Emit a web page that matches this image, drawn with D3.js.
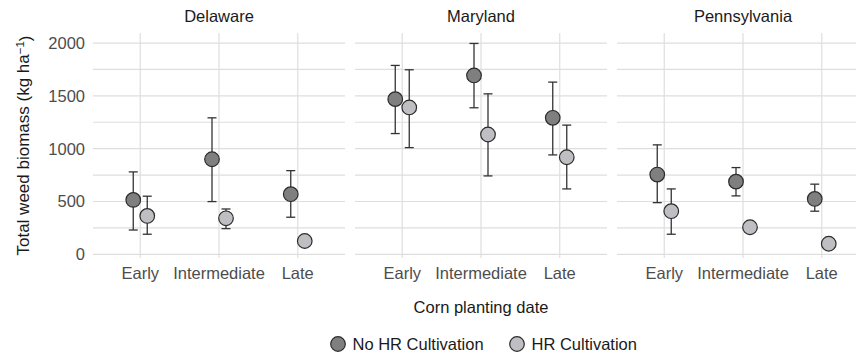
<!DOCTYPE html>
<html>
<head>
<meta charset="utf-8">
<script src="https://cdn.jsdelivr.net/npm/d3@7"></script>
<style>
  body { margin: 0; background: #fff; }
  svg { display: block; font-family: "Liberation Sans", Arial, sans-serif; }
  .grid line { stroke: #dedede; stroke-width: 1.2; }
  .tick-label { fill: #4d4d4d; font-size: 16.5px; }
  .title { fill: #1a1a1a; font-size: 16.5px; }
</style>
</head>
<body>
<script>
var WIDTH = 856;
var HEIGHT = 356;

var states = ["Delaware", "Maryland", "Pennsylvania"];
var dates = ["Early", "Intermediate", "Late"];
var treatments = ["No HR Cultivation", "HR Cultivation"];
var yTicks = [0, 500, 1000, 1500, 2000];
var yMinor = [250, 750, 1250, 1750];

// values per state, in order Early, Intermediate, Late
var noHrMean  = [[515, 900, 569], [1469, 1693, 1292], [755, 688, 524]];
var noHrLower = [[230, 499, 351], [1143, 1387, 941], [489, 553, 408]];
var noHrUpper = [[780, 1292, 792], [1788, 1996, 1630], [1036, 821, 664]];

var hrMean  = [[363, 341, 126], [1390, 1134, 919], [408, 256, 100]];
var hrLower = [[190, 243, null], [1010, 742, 619], [190, null, null]];
var hrUpper = [[550, 429, null], [1747, 1519, 1223], [619, null, null]];

var fills = ["#7f7f7f", "#bfbfc3"];

var PANEL_LEFT = 93;
var PANEL_W = 252;
var PANEL_GAP = 10;
var PANEL_TOP = 33;
var PANEL_BOTTOM = 258;

var translate = function (x, y) {
  return "translate(" + x + "," + y + ")";
};

var yScale = d3.scaleLinear()
  .domain([-35, 2095])
  .range([PANEL_BOTTOM, PANEL_TOP]);

var xScale = d3.scalePoint()
  .domain(dates)
  .range([0, PANEL_W])
  .padding(0.6);

var dodge = d3.scalePoint()
  .domain(treatments)
  .range([-7, 7]);

var rows = [];
states.forEach(function (s, si) {
  dates.forEach(function (d, di) {
    rows.push({state: s, date: d, trt: treatments[0], mean: noHrMean[si][di], lo: noHrLower[si][di], hi: noHrUpper[si][di], k: 0});
    rows.push({state: s, date: d, trt: treatments[1], mean: hrMean[si][di], lo: hrLower[si][di], hi: hrUpper[si][di], k: 1});
  });
});

var svg = d3.select("body").append("svg")
  .attr("width", WIDTH)
  .attr("height", HEIGHT);

states.forEach(function (s, si) {
  var g = svg.append("g")
    .attr("transform", translate(PANEL_LEFT + si * (PANEL_W + PANEL_GAP), 0));

  var grid = g.append("g").attr("class", "grid");
  grid.selectAll("line.h")
    .data(yTicks.concat(yMinor))
    .enter().append("line")
    .attr("x1", 0).attr("x2", PANEL_W)
    .attr("y1", function (d) { return yScale(d); })
    .attr("y2", function (d) { return yScale(d); });
  grid.selectAll("line.v")
    .data(dates)
    .enter().append("line")
    .attr("x1", function (d) { return xScale(d); })
    .attr("x2", function (d) { return xScale(d); })
    .attr("y1", PANEL_TOP).attr("y2", PANEL_BOTTOM);

  g.append("text")
    .attr("class", "title")
    .attr("x", PANEL_W / 2)
    .attr("y", 22)
    .attr("text-anchor", "middle")
    .text(s);

  g.selectAll("text.xt")
    .data(dates)
    .enter().append("text")
    .attr("class", "tick-label")
    .attr("x", function (d) { return xScale(d); })
    .attr("y", 279)
    .attr("text-anchor", "middle")
    .text(function (d) { return d; });

  var data = rows.filter(function (r) { return r.state === s; });
  var bars = data.filter(function (r) { return r.lo !== null; });
  var cx = function (r) { return xScale(r.date) + dodge(r.trt); };

  var eb = g.append("g").attr("stroke", "#333").attr("stroke-width", 1.3).attr("fill", "none");
  eb.selectAll("line.stem").data(bars).enter().append("line")
    .attr("x1", cx).attr("x2", cx)
    .attr("y1", function (r) { return yScale(r.lo); })
    .attr("y2", function (r) { return yScale(r.hi); });
  eb.selectAll("line.top").data(bars).enter().append("line")
    .attr("x1", function (r) { return cx(r) - 4.5; })
    .attr("x2", function (r) { return cx(r) + 4.5; })
    .attr("y1", function (r) { return yScale(r.hi); })
    .attr("y2", function (r) { return yScale(r.hi); });
  eb.selectAll("line.bot").data(bars).enter().append("line")
    .attr("x1", function (r) { return cx(r) - 4.5; })
    .attr("x2", function (r) { return cx(r) + 4.5; })
    .attr("y1", function (r) { return yScale(r.lo); })
    .attr("y2", function (r) { return yScale(r.lo); });

  g.selectAll("circle").data(data).enter().append("circle")
    .attr("cx", cx)
    .attr("cy", function (r) { return yScale(r.mean); })
    .attr("r", 7.3)
    .attr("fill", function (r) { return fills[r.k]; })
    .attr("stroke", "#2b2b2b")
    .attr("stroke-width", 1.2);
});

// y tick labels
svg.selectAll("text.yt")
  .data(yTicks)
  .enter().append("text")
  .attr("class", "tick-label")
  .attr("x", 85)
  .attr("y", function (d) { return yScale(d); })
  .attr("dy", "0.36em")
  .attr("text-anchor", "end")
  .text(function (d) { return d; });

// y axis title
var yt = svg.append("text")
  .attr("class", "title")
  .attr("font-size", "17px")
  .style("font-size", "17px")
  .attr("transform", translate(29, (PANEL_TOP + PANEL_BOTTOM) / 2) + " rotate(-90)")
  .attr("text-anchor", "middle");
yt.append("tspan").text("Total weed biomass (kg ha");
yt.append("tspan").attr("dy", "-0.45em").style("font-size", "11.5px").text("\u22121");
yt.append("tspan").attr("dy", "0.45em").text(")");

// x axis title
svg.append("text")
  .attr("class", "title")
  .attr("x", 481)
  .attr("y", 313)
  .attr("text-anchor", "middle")
  .text("Corn planting date");

// legend
var legendX = [338, 517];
var legend = svg.append("g");
treatments.forEach(function (t, i) {
  legend.append("circle")
    .attr("cx", legendX[i])
    .attr("cy", 344)
    .attr("r", 7.3)
    .attr("fill", fills[i])
    .attr("stroke", "#2b2b2b")
    .attr("stroke-width", 1.2);
  legend.append("text")
    .attr("class", "title")
    .attr("x", legendX[i] + 14.5)
    .attr("y", 350)
    .text(t);
});
</script>
</body>
</html>
